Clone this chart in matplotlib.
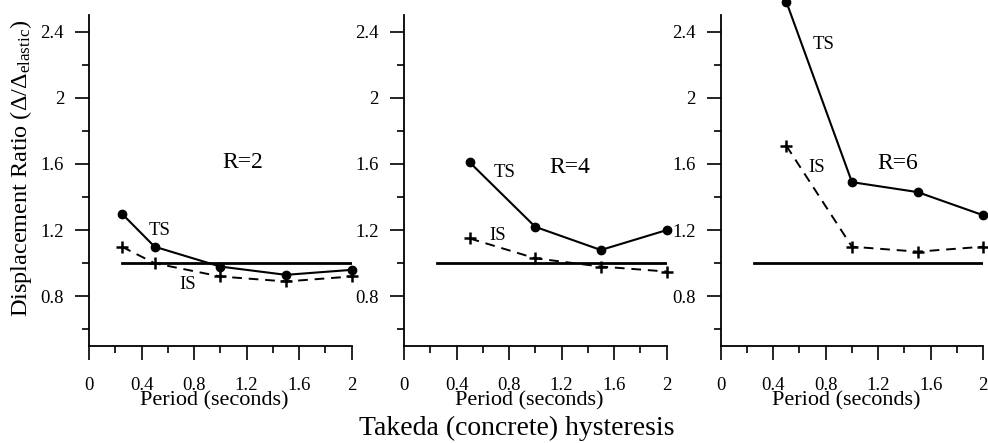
import matplotlib
matplotlib.use("Agg")
import matplotlib.pyplot as plt
from matplotlib.ticker import FixedLocator

plt.rcParams['font.family'] = ['Liberation Serif', 'DejaVu Serif']
plt.rcParams['mathtext.fontset'] = 'custom'
plt.rcParams['mathtext.rm'] = 'Liberation Serif'
plt.rcParams['mathtext.it'] = 'Liberation Serif:italic'

# ---- data ----
r_labels = ["R=2", "R=4", "R=6"]
ts_periods = [[0.25, 0.5, 1.0, 1.5, 2.0], [0.5, 1.0, 1.5, 2.0], [0.5, 1.0, 1.5, 2.0]]
ts_values = [[1.30, 1.10, 0.98, 0.93, 0.96], [1.61, 1.22, 1.08, 1.20], [2.58, 1.49, 1.43, 1.29]]
is_periods = [[0.25, 0.5, 1.0, 1.5, 2.0], [0.5, 1.0, 1.5, 2.0], [0.5, 1.0, 1.5, 2.0]]
is_values = [[1.10, 1.00, 0.92, 0.89, 0.92], [1.15, 1.03, 0.98, 0.95], [1.71, 1.10, 1.07, 1.10]]
ref_period = [0.25, 2.0]
ref_value = [1.0, 1.0]
x_major = [0, 0.4, 0.8, 1.2, 1.6, 2.0]
x_major_labels = ["0", "0.4", "0.8", "1.2", "1.6", "2"]
x_minor = [0.2, 0.6, 1.0, 1.4, 1.8]
y_major = [0.8, 1.2, 1.6, 2.0, 2.4]
y_major_labels = ["0.8", "1.2", "1.6", "2", "2.4"]
y_minor = [0.6, 1.0, 1.4, 1.8, 2.2]

# annotation positions (data coords): (TS, IS, R)
label_pos = [
    [(0.54, 1.20), (0.75, 0.87), (1.17, 1.61)],
    [(0.77, 1.55), (0.71, 1.17), (1.26, 1.58)],
    [(0.78, 2.32), (0.73, 1.58), (1.35, 1.60)],
]

fig = plt.figure(figsize=(9.88, 4.43), dpi=100)
lefts = [89 / 988, 404 / 988, 720.7 / 988]
W = 262.5 / 988
B = 97 / 443
H = 331 / 443

for i in range(3):
    ax = fig.add_axes([lefts[i], B, W, H])
    ax.set_xlim(0, 2.0)
    ax.set_ylim(0.5, 2.5)
    for s in ("top", "right"):
        ax.spines[s].set_visible(False)
    for s in ("left", "bottom"):
        ax.spines[s].set_linewidth(1.3)
    ax.plot(ref_period, ref_value, color="black", lw=2.0)
    ax.plot(is_periods[i], is_values[i], color="black", lw=1.4, ls=(0, (5, 3.5)),
            marker="+", ms=8, mew=1.8, clip_on=False)
    ax.plot(ts_periods[i], ts_values[i], color="black", lw=1.5, ls="-",
            marker="o", ms=6, clip_on=False)
    ax.xaxis.set_major_locator(FixedLocator(x_major))
    ax.set_xticklabels(x_major_labels)
    ax.xaxis.set_minor_locator(FixedLocator(x_minor))
    ax.yaxis.set_major_locator(FixedLocator(y_major))
    ax.set_yticklabels(y_major_labels)
    ax.yaxis.set_minor_locator(FixedLocator(y_minor))
    ax.tick_params(axis="both", which="major", length=10, width=1.2, labelsize=13.5)
    ax.tick_params(axis="both", which="minor", length=5, width=1.2)
    ax.tick_params(axis="x", which="major", pad=12)
    ax.tick_params(axis="y", which="major", pad=8)
    ax.text(0.477, -0.181, "Period (seconds)", fontsize=16, ha="center",
            va="baseline", transform=ax.transAxes)
    (tx, ty), (ix, iy), (rx, ry) = label_pos[i]
    ax.text(tx, ty, "TS", fontsize=13.5, ha="center", va="center")
    ax.text(ix, iy, "IS", fontsize=13.5, ha="center", va="center")
    ax.text(rx, ry, r_labels[i], fontsize=17, ha="center", va="center")

fig.text(21 / 988, 1 - 168 / 443, r"Displacement Ratio ($\Delta/\Delta_{\mathrm{elastic}}$)",
         rotation=90, fontsize=17.5, ha="center", va="center")
fig.text(517 / 988, 8 / 443, "Takeda (concrete) hysteresis", fontsize=20,
         ha="center", va="baseline")

fig.savefig("out.png", dpi=100, facecolor="white")
